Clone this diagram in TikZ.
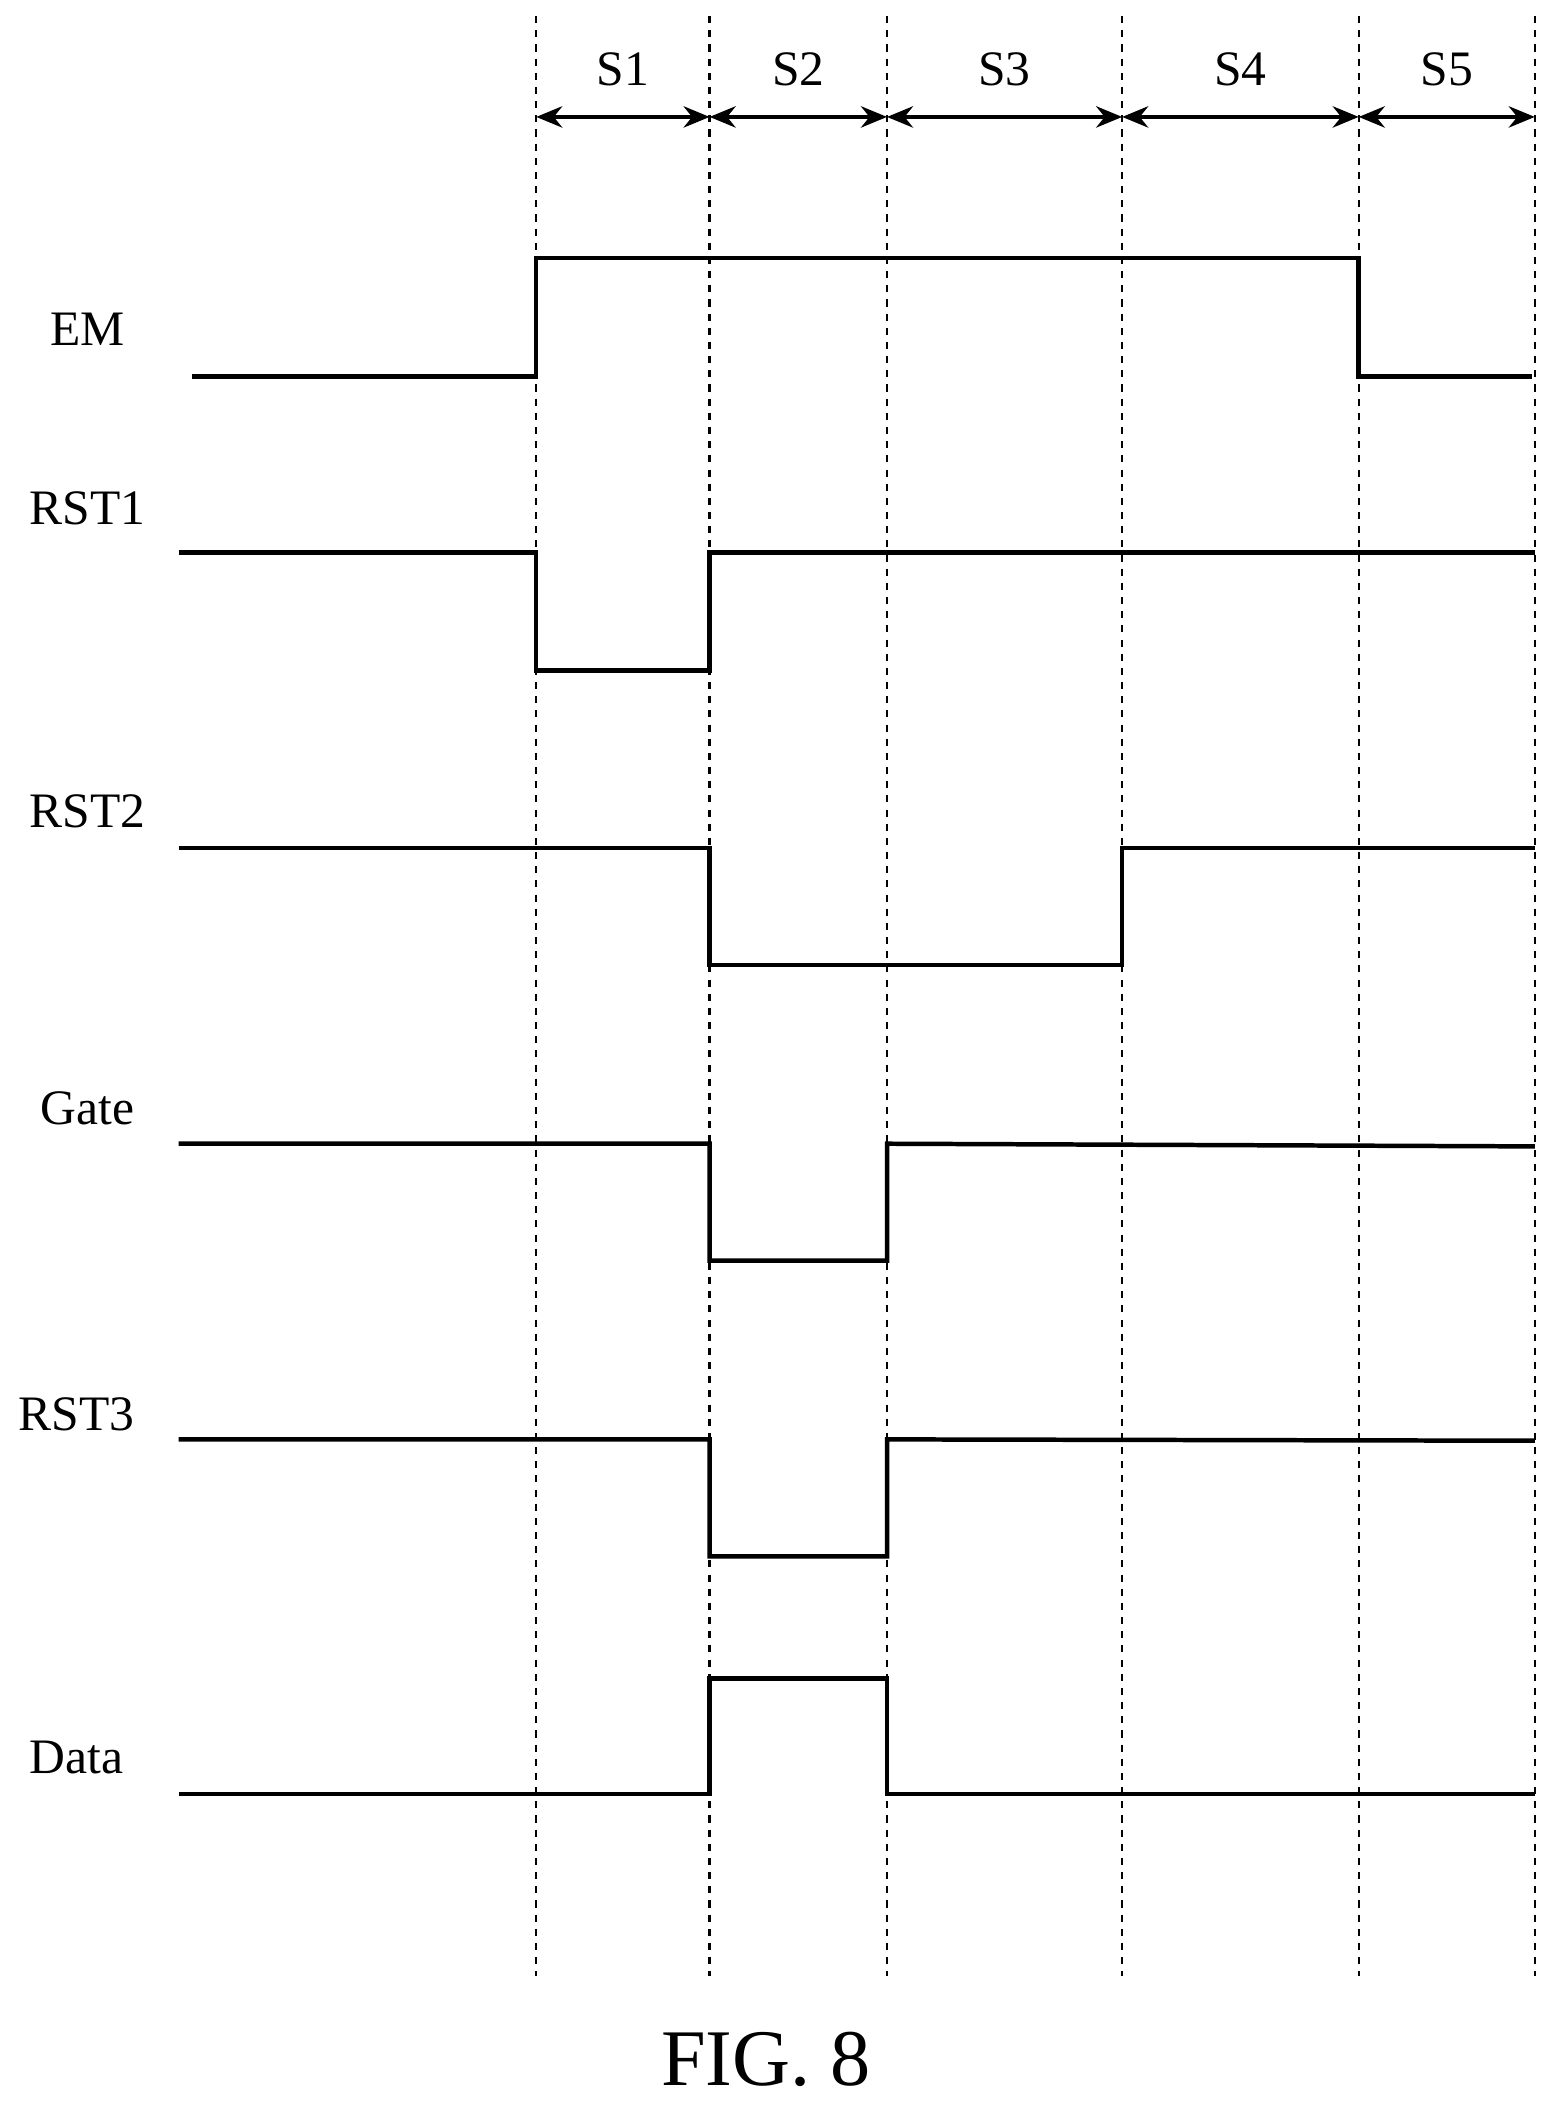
\documentclass[tikz,border=0pt]{standalone}
\usepackage{fontspec}
\setmainfont{Liberation Serif}
\usetikzlibrary{arrows.meta}
\begin{document}
\begin{tikzpicture}[x=0.02cm, y=-0.02cm,
    >={Stealth[length=11pt,width=9pt]},
    signal/.style={line width=1.9pt},
    guide/.style={dashed, line width=1pt},
    span/.style={line width=1.7pt,<->},
    lbl/.style={font=\fontsize{21}{24}\selectfont, inner sep=0pt},
]
    \useasboundingbox (0,0) rectangle (1160,1570);

    % Phase boundaries
    \foreach \x [count=\i] in {399,528,660,835,1011,1142} {
        \coordinate (t\i) at (\x,87);
        \draw[guide] (\x,12) -- (\x,1470);
    }
    \foreach \a/\b/\s in {1/2/S1,2/3/S2,3/4/S3,4/5/S4,5/6/S5} {
        \draw[span] (t\a) -- (t\b) node[lbl, midway, yshift=20pt] (\s) {\s};
    }

    % Signals
    \node[lbl] (em) at (65,245) {EM};
    \draw[signal] (143,280) -- (399,280) -- (399,192) -- (1011,192) -- (1011,280) -- (1140,280);

    \node[lbl] (rst1) at (65,378) {RST1};
    \draw[signal] (133,411) -- (399,411) -- (399,499) -- (528,499) -- (528,411) -- (1142,411);

    \node[lbl] (rst2) at (65,604) {RST2};
    \draw[signal] (133,631) -- (528,631) -- (528,718) -- (835,718) -- (835,631) -- (1142,631);

    \node[lbl] (gate) at (65,825) {Gate};
    \draw[signal] (133,851) -- (528,851) -- (528,938) -- (660,938) -- (660,851) -- (1142,853);

    \node[lbl] (rst3) at (57,1052) {RST3};
    \draw[signal] (133,1071) -- (528,1071) -- (528,1158) -- (660,1158) -- (660,1071) -- (1142,1072);

    \node[lbl] (data) at (57,1308) {Data};
    \draw[signal] (133,1335) -- (528,1335) -- (528,1249) -- (660,1249) -- (660,1335) -- (1142,1335);

    \node[font=\fontsize{34}{40}\selectfont, inner sep=0pt] (fig) at (570,1532) {FIG. 8};
\end{tikzpicture}
\end{document}
